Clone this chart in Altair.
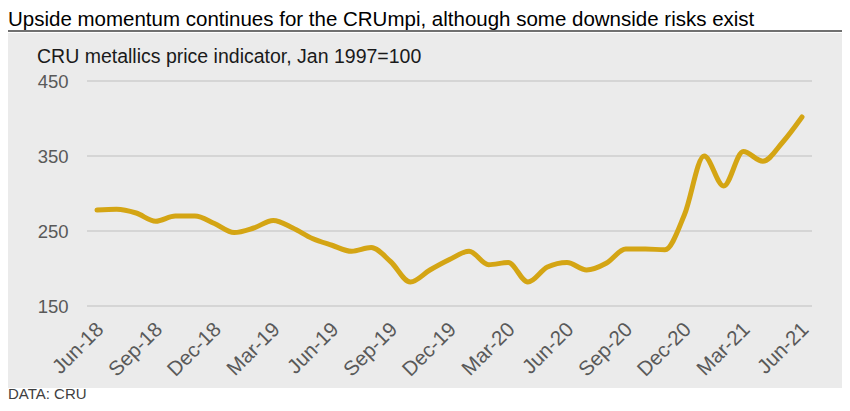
import json
import altair as alt
import pandas as pd

# ---- data -----------------------------------------------------------------
months = pd.date_range("2018-06-01", "2021-06-01", freq="MS").strftime("%b-%y").tolist()
values = [278, 279, 274, 263, 270, 270, 260,
          248, 254, 264, 254, 240, 231, 223, 228, 209, 182, 198, 212,
          223, 205, 208, 182, 202, 208, 198, 207, 226, 226, 225, 272,
          350, 310, 356, 343, 368, 402]
tick_index = list(range(0, 37, 3))
tick_labels = ["Jun-18", "Sep-18", "Dec-18", "Mar-19", "Jun-19", "Sep-19", "Dec-19",
               "Mar-20", "Jun-20", "Sep-20", "Dec-20", "Mar-21", "Jun-21"]
y_ticks = [150, 250, 350, 450]

title_text = "Upside momentum continues for the CRUmpi, although some downside risks exist"
subtitle_text = "CRU metallics price indicator, Jan 1997=100"
source_text = "DATA: CRU"

df = pd.DataFrame({"i": list(range(len(values))), "month": months, "value": values})
grid_df = pd.DataFrame({"v": y_ticks})

W, H = 725, 225
FONT = "Liberation Sans"
label_expr = json.dumps(dict(zip([str(t) for t in tick_index], tick_labels))) + "[''+datum.value]"

x_scale = alt.Scale(domain=[-0.51, 36.51], nice=False, zero=False)
y_scale = alt.Scale(domain=[150, 450], nice=False, zero=False)

y_axis = alt.Axis(values=y_ticks, labelFontSize=18.5, labelColor="#595959",
                  labelFont=FONT, labelPadding=19, domain=False, ticks=False,
                  grid=False, zindex=1)
x_axis = alt.Axis(values=tick_index, labelExpr=label_expr, labelAngle=315,
                  labelAlign="right", labelBaseline="middle", labelPadding=20,
                  labelOffset=3, labelFontSize=20.5, labelColor="#595959",
                  labelFont=FONT, labelOverlap=False, domain=False, ticks=False,
                  grid=False, zindex=1)

panel = alt.Chart(pd.DataFrame({"a": [0]})).mark_rect(color="#EBEBEB").encode(
    x=alt.value(-79), x2=alt.value(755), y=alt.value(-48), y2=alt.value(307)
)

grid = alt.Chart(grid_df).mark_rule(color="#BFBFBF", strokeWidth=1).encode(
    y=alt.Y("v:Q", scale=y_scale, title=None, axis=y_axis),
    x=alt.value(0), x2=alt.value(W),
)

line = alt.Chart(df).mark_line(
    color="#D4A514", strokeWidth=5, strokeCap="round", strokeJoin="round",
    interpolate="monotone"
).encode(
    x=alt.X("i:Q", scale=x_scale, title=None, axis=x_axis),
    y=alt.Y("value:Q", scale=y_scale, title=None, axis=y_axis),
    tooltip=["month:N", "value:Q"],
)

def text_layer(txt, x, y, size, color, baseline="alphabetic"):
    return alt.Chart(pd.DataFrame({"t": [txt]})).mark_text(
        align="left", baseline=baseline, font=FONT, fontSize=size, color=color
    ).encode(text="t:N", x=alt.value(x), y=alt.value(y))

title = text_layer(title_text, -79, -71, 20.5, "#000000", baseline="top")
underline = alt.Chart(pd.DataFrame({"a": [0]})).mark_rule(color="#707070", strokeWidth=2).encode(
    x=alt.value(-79), x2=alt.value(755), y=alt.value(-50)
)
subtitle = text_layer(subtitle_text, -50, -18, 19.5, "#1A1A1A")
source = text_layer(source_text, -79, 318, 15, "#404040")

chart = alt.layer(panel, grid, line, title, underline, subtitle, source).properties(
    width=W, height=H,
    autosize=alt.AutoSizeParams(type="none"),
    padding={"left": 79, "top": 73, "right": 30, "bottom": 97},
    background="#FFFFFF",
).configure_view(stroke=None, fill=None)

chart.save("out.html", embed_options={"renderer": "svg", "actions": False})
